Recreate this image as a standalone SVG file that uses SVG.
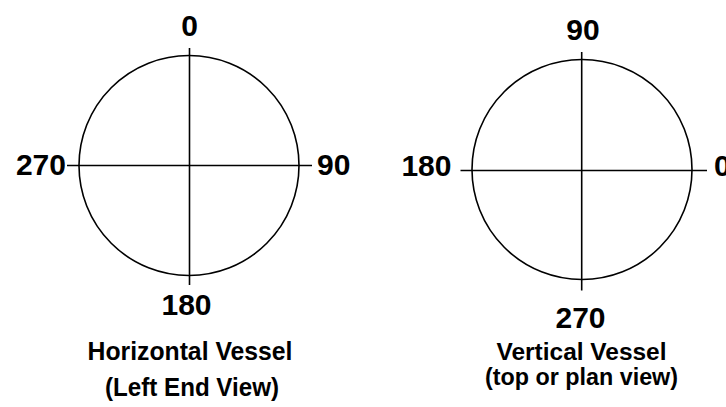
<svg xmlns="http://www.w3.org/2000/svg" width="726" height="407" viewBox="0 0 726 407">
<style>
.c{fill:none;stroke:#000;stroke-width:1.6}
.l{stroke:#000;stroke-width:1.6}
.n{font-family:"Liberation Sans",Arial,sans-serif;font-weight:bold;font-size:30px;fill:#000}
.t{font-family:"Liberation Sans",Arial,sans-serif;font-weight:bold;font-size:25px;fill:#000;text-anchor:middle}
.s{font-size:23px}
</style>
<rect width="726" height="407" fill="#fff"/>
<g id="horizontal-vessel">
<circle class="c" cx="189" cy="165.5" r="110"/>
<g id="h-lines">
<line class="l" x1="67" y1="165.5" x2="312" y2="165.5"/>
<line class="l" x1="189.5" y1="48" x2="189.5" y2="285"/>
</g>
<text class="n" x="189.5" y="36" text-anchor="middle">0</text>
<text class="n" x="66" y="175" text-anchor="end">270</text>
<text class="n" x="317" y="175">90</text>
<text class="n" x="186.5" y="315" text-anchor="middle">180</text>
<text class="t" x="190" y="360" textLength="205" lengthAdjust="spacingAndGlyphs">Horizontal Vessel</text>
<text class="t" x="192" y="396" textLength="174" lengthAdjust="spacingAndGlyphs">(Left End View)</text>
</g>
<g id="vertical-vessel">
<circle class="c" cx="582" cy="169.5" r="110"/>
<g id="v-lines">
<line class="l" x1="460.5" y1="170.5" x2="707" y2="170.5"/>
<line class="l" x1="581.7" y1="52" x2="581.7" y2="290.5"/>
</g>
<text class="n" x="583" y="40" text-anchor="middle">90</text>
<text class="n" x="451.5" y="176" text-anchor="end">180</text>
<text class="n" x="714" y="176">0</text>
<text class="n" x="580.5" y="328" text-anchor="middle">270</text>
<text class="t s" x="581.5" y="360" textLength="170" lengthAdjust="spacingAndGlyphs">Vertical Vessel</text>
<text class="t s" x="581.5" y="385" textLength="193" lengthAdjust="spacingAndGlyphs">(top or plan view)</text>
</g>
</svg>
